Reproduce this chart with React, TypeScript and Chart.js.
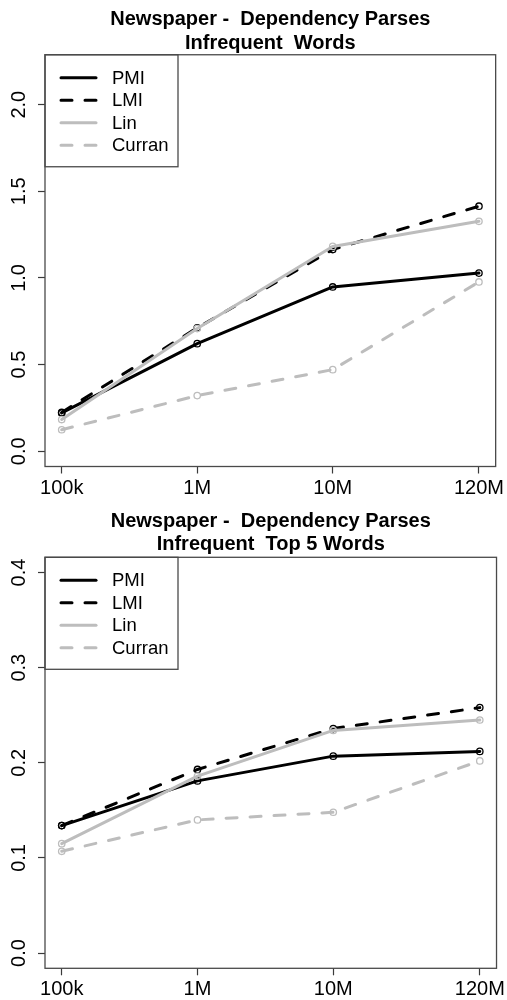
import React, { useEffect, useRef } from "react";
import { Chart, registerables } from "chart.js";

Chart.register(...registerables);

// ---------- data ----------
const sizes = [1e5, 1e6, 1e7, 1.2e8];
const sizeLabels = ["100k", "1M", "10M", "120M"];
const seriesNames = ["PMI", "LMI", "Lin", "Curran"];

const wordsPMI = [0.221, 0.621, 0.948, 1.028];
const wordsLMI = [0.224, 0.712, 1.164, 1.414];
const wordsLin = [0.183, 0.708, 1.182, 1.327];
const wordsCurran = [0.124, 0.321, 0.471, 0.977];

const top5PMI = [0.134, 0.181, 0.207, 0.212];
const top5LMI = [0.134, 0.193, 0.236, 0.258];
const top5Lin = [0.115, 0.186, 0.234, 0.245];
const top5Curran = [0.107, 0.14, 0.148, 0.202];

const yTicksWords = [0, 0.5, 1.0, 1.5, 2.0];
const yTicksTop5 = [0, 0.1, 0.2, 0.3, 0.4];
const yLimWords = [0, 2.2];
const yLimTop5 = [0, 0.4];

const titleWords = ["Newspaper -  Dependency Parses", "Infrequent  Words"];
const titleTop5 = ["Newspaper -  Dependency Parses", "Infrequent  Top 5 Words"];

// ---------- styles ----------
const FAMILY = '"Liberation Sans", Arial, Helvetica, sans-serif';
const GRAY = "#bdbdbd";
const DASH = [11, 13];
const seriesStyles = [
  { color: "#000000", dash: [] as number[] },
  { color: "#000000", dash: DASH },
  { color: GRAY, dash: [] as number[] },
  { color: GRAY, dash: DASH },
];

const frameLegendPlugin = {
  id: "frameLegend",
  afterDatasetsDraw(chart: any) {
    const { ctx, chartArea: a } = chart;
    ctx.save();
    ctx.strokeStyle = "#4a4a4a";
    ctx.lineWidth = 1.3;
    ctx.setLineDash([]);
    ctx.strokeRect(a.left, a.top, a.right - a.left, a.bottom - a.top);

    // legend box (top-left, inside plot)
    const lx = a.left;
    const ly = a.top;
    const w = 133;
    const h = 112;
    ctx.strokeRect(lx, ly, w, h);
    chart.data.datasets.forEach((ds: any, i: number) => {
      const y = ly + 23 + i * 22.5;
      ctx.beginPath();
      ctx.setLineDash(ds.borderDash || []);
      ctx.lineCap = "round";
      ctx.strokeStyle = ds.borderColor;
      ctx.lineWidth = ds.borderWidth;
      ctx.moveTo(lx + 16, y);
      ctx.lineTo(lx + 51, y);
      ctx.stroke();
      ctx.setLineDash([]);
      ctx.fillStyle = "#000";
      ctx.font = `18.5px ${FAMILY}`;
      ctx.textBaseline = "middle";
      ctx.textAlign = "left";
      ctx.fillText(ds.label, lx + 67, y + 1);
    });
    ctx.restore();
  },
};

type PanelProps = {
  titleLines: string[];
  series: number[][];
  yTicks: number[];
  yLim: number[];
  titlePadTop: number;
  titlePadBottom: number;
  xAxisHeight: number;
  xTickPad: number;
};

function Panel(props: PanelProps) {
  const ref = useRef<HTMLCanvasElement>(null);
  useEffect(() => {
    const { titleLines, series, yTicks, yLim, titlePadTop, titlePadBottom, xAxisHeight, xTickPad } = props;
    const lo = Math.log10(sizes[0]);
    const hi = Math.log10(sizes[sizes.length - 1]);
    const xp = 0.04 * (hi - lo);
    const yp = 0.04 * (yLim[1] - yLim[0]);
    const gridOpts = {
      display: true,
      drawOnChartArea: false,
      drawTicks: true,
      tickLength: 7,
      tickWidth: 1.2,
      color: "#3a3a3a",
    };
    const chart = new Chart(ref.current as HTMLCanvasElement, {
      type: "line",
      data: {
        datasets: seriesNames.map((name, i) => ({
          label: name,
          data: sizes.map((s, j) => ({ x: s, y: series[i][j] })),
          borderColor: seriesStyles[i].color,
          borderDash: seriesStyles[i].dash,
          borderWidth: 3,
          borderCapStyle: "round",
          borderJoinStyle: "round",
          pointRadius: 3.2,
          pointBorderWidth: 1.3,
          pointBorderColor: seriesStyles[i].color,
          pointBackgroundColor: "rgba(0,0,0,0)",
          pointStyle: "circle",
          tension: 0,
          fill: false,
          order: seriesNames.length - i,
        })),
      } as any,
      options: {
        responsive: false,
        animation: false,
        devicePixelRatio: 1,
        layout: { padding: { left: 0, right: 9, top: 0, bottom: 0 } },
        plugins: {
          legend: { display: false },
          tooltip: { enabled: false },
          title: {
            display: true,
            text: titleLines,
            fullSize: false,
            color: "#000",
            font: { family: FAMILY, size: 20, weight: "bold", lineHeight: 1.165 },
            padding: { top: titlePadTop, bottom: titlePadBottom },
          },
        },
        scales: {
          x: {
            type: "logarithmic",
            position: "bottom",
            bounds: "data",
            min: Math.pow(10, lo - xp),
            max: Math.pow(10, hi + xp),
            afterBuildTicks: (s: any) => {
              s.ticks = sizes.map((v) => ({ value: v }));
            },
            afterFit: (s: any) => {
              s.height = xAxisHeight;
            },
            ticks: {
              autoSkip: false,
              minRotation: 0,
              maxRotation: 0,
              padding: xTickPad,
              color: "#000",
              font: { family: FAMILY, size: 20 },
              callback: (_v: any, i: number) => sizeLabels[i],
            },
            grid: gridOpts,
            border: { display: false },
          },
          y: {
            type: "linear",
            position: "left",
            bounds: "data",
            min: yLim[0] - yp,
            max: yLim[1] + yp,
            afterBuildTicks: (s: any) => {
              s.ticks = yTicks.map((v) => ({ value: v }));
            },
            afterFit: (s: any) => {
              s.width = 45;
            },
            ticks: {
              autoSkip: false,
              minRotation: 90,
              maxRotation: 90,
              crossAlign: "center",
              padding: 4.5,
              color: "#000",
              font: { family: FAMILY, size: 20 },
              callback: (v: any) => Number(v).toFixed(1),
            },
            grid: gridOpts,
            border: { display: false },
          },
        },
      } as any,
      plugins: [frameLegendPlugin],
    });
    return () => chart.destroy();
  }, []);
  return <canvas ref={ref} width={507} height={500} style={{ display: "block", width: 507, height: 500 }} />;
}

export default function App() {
  return (
    <div style={{ position: "absolute", left: 0, top: 0, width: 507, height: 1000, background: "#fff" }}>
      <Panel
        titleLines={titleWords}
        series={[wordsPMI, wordsLMI, wordsLin, wordsCurran]}
        yTicks={yTicksWords}
        yLim={yLimWords}
        titlePadTop={8.15}
        titlePadBottom={0}
        xAxisHeight={33.5}
        xTickPad={2.6}
      />
      <Panel
        titleLines={titleTop5}
        series={[top5PMI, top5LMI, top5Lin, top5Curran]}
        yTicks={yTicksTop5}
        yLim={yLimTop5}
        titlePadTop={9.75}
        titlePadBottom={0.95}
        xAxisHeight={31.7}
        xTickPad={1.8}
      />
    </div>
  );
}
